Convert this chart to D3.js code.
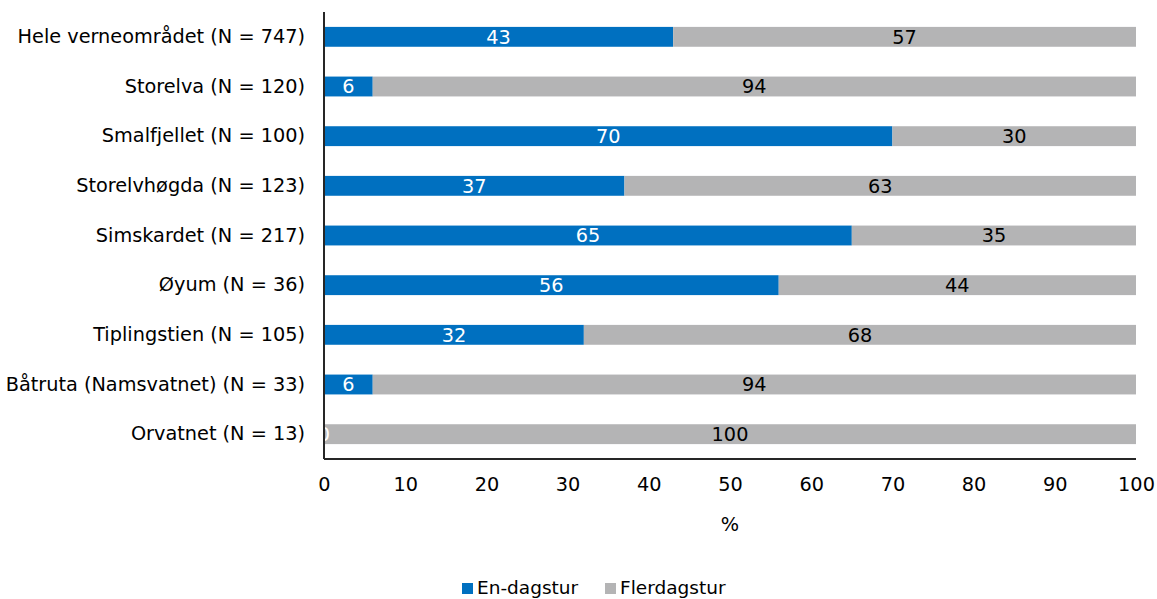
<!DOCTYPE html>
<html>
<head>
<meta charset="utf-8">
<script src="https://cdn.jsdelivr.net/npm/d3@7"></script>
<style>
  html, body { margin: 0; padding: 0; background: #fff; }
  svg text { font-family: "DejaVu Sans", sans-serif; fill: #000; }
</style>
</head>
<body>
<svg id="chart" width="1157" height="599"></svg>
<script>
// Share of day trips vs multi-day trips per area (percent)
const categories = [
  "Hele verneområdet (N = 747)",
  "Storelva (N = 120)",
  "Smalfjellet (N = 100)",
  "Storelvhøgda (N = 123)",
  "Simskardet (N = 217)",
  "Øyum (N = 36)",
  "Tiplingstien (N = 105)",
  "Båtruta (Namsvatnet) (N = 33)",
  "Orvatnet (N = 13)"
];
const enDagstur   = [43, 6, 70, 37, 65, 56, 32, 6, 0];
const flerdagstur = [57, 94, 30, 63, 35, 44, 68, 94, 100];
const seriesNames = ["En-dagstur", "Flerdagstur"];
const seriesColors = ["#0070C0", "#B4B4B5"];
const labelColors = ["#ffffff", "#000000"];
const xTicks = [0, 10, 20, 30, 40, 50, 60, 70, 80, 90, 100];

const FONT = "'DejaVu Sans', sans-serif";
const FS = "19.3px";

const svg = d3.select("#chart");
const margin = { left: 324, right: 21, top: 12, bottom: 140 };
const W = 1157, H = 599;

const x = d3.scaleLinear().domain([0, 100]).range([margin.left, W - margin.right]);
const y = d3.scaleBand().domain(categories).range([margin.top, H - margin.bottom]).paddingInner(0.6).paddingOuter(0.3);

const rows = categories.map((c, i) => ({ cat: c, v: [enDagstur[i], flerdagstur[i]] }));
const stack = d3.stack().keys([0, 1]).value((d, k) => d.v[k]);
const layers = stack(rows);

const g = svg.append("g");
layers.forEach((layer, k) => {
  g.selectAll(null).data(layer).enter().append("rect")
    .attr("x", d => x(d[0]))
    .attr("width", d => x(d[1]) - x(d[0]))
    .attr("y", d => y(d.data.cat))
    .attr("height", y.bandwidth())
    .attr("fill", seriesColors[k]);
});

// Value labels centred in each segment
layers.forEach((layer, k) => {
  g.selectAll(null).data(layer).enter().append("text")
    .attr("x", d => x((d[0] + d[1]) / 2))
    .attr("y", d => y(d.data.cat) + y.bandwidth() / 2)
    .attr("dy", "0.36em")
    .attr("text-anchor", "middle")
    .style("font-size", FS)
    .style("fill", labelColors[k])
    .text(d => d.data.v[k]);
});

// Category axis (line only)
const yAxis = svg.append("g")
  .attr("transform", `translate(${margin.left},0)`)
  .call(d3.axisLeft(y).tickSize(0).tickPadding(19));
yAxis.select(".domain").attr("stroke", "#262626").attr("stroke-width", 2).attr("d", `M0,${margin.top}V${H - margin.bottom}`);
yAxis.selectAll("text").style("font-size", FS).style("font-family", FONT).attr("fill", "#000");

// Value axis
const xAxis = svg.append("g")
  .attr("transform", `translate(0,${H - margin.bottom})`)
  .call(d3.axisBottom(x).tickValues(xTicks).tickSize(0).tickPadding(18));
xAxis.select(".domain").attr("stroke", "#262626").attr("stroke-width", 2).attr("d", `M${margin.left},0H${W - margin.right}`);
xAxis.selectAll("text").style("font-size", FS).style("font-family", FONT).attr("fill", "#000");

svg.append("text")
  .attr("x", (x(0) + x(100)) / 2)
  .attr("y", 531)
  .attr("text-anchor", "middle")
  .style("font-size", FS)
  .text("%");

// Legend
const legend = svg.append("g");
const legendItems = [
  { name: seriesNames[0], color: seriesColors[0], x: 462 },
  { name: seriesNames[1], color: seriesColors[1], x: 605 }
];
legendItems.forEach(it => {
  legend.append("rect").attr("x", it.x).attr("y", 583).attr("width", 11).attr("height", 11).attr("fill", it.color);
  legend.append("text").attr("x", it.x + 15).attr("y", 594).style("font-size", "18.5px").text(it.name);
});
</script>
</body>
</html>
